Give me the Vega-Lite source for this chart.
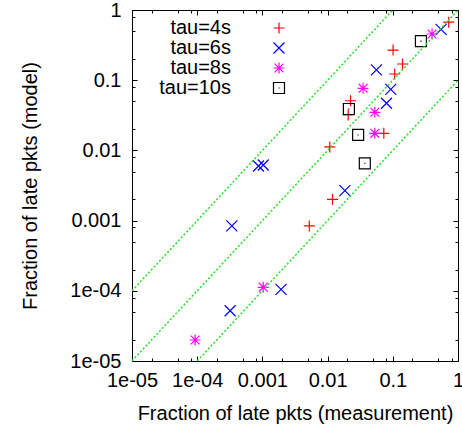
{
  "$schema": "https://vega.github.io/schema/vega-lite/v6.json",
  "width": 326,
  "height": 351,
  "autosize": {"type": "none"},
  "padding": {"left": 132, "top": 10, "right": 4, "bottom": 72},
  "background": "white",
  "config": {
    "view": {"stroke": "#000000", "strokeWidth": 1},
    "font": "Liberation Sans",
    "axis": {
      "labelFont": "Liberation Sans",
      "labelFontSize": 20,
      "labelColor": "#000000",
      "titleFont": "Liberation Sans",
      "titleFontSize": 20,
      "titleFontWeight": "normal",
      "titleColor": "#000000",
      "domain": false,
      "grid": false,
      "tickColor": "#000000",
      "tickWidth": 1,
      "labelOverlap": false,
      "labelFlush": false,
      "labelBound": false
    },
    "legend": {
      "labelFont": "Liberation Sans",
      "labelFontSize": 20,
      "labelColor": "#000000"
    }
  },
  "datasets": {
    "pts": [
      {"m": 0.72, "p": 0.67, "tau": "tau=4s"},
      {"m": 0.101, "p": 0.269, "tau": "tau=4s"},
      {"m": 0.141, "p": 0.17, "tau": "tau=4s"},
      {"m": 0.107, "p": 0.1225, "tau": "tau=4s"},
      {"m": 0.0225, "p": 0.051, "tau": "tau=4s"},
      {"m": 0.0207, "p": 0.032, "tau": "tau=4s"},
      {"m": 0.0728, "p": 0.0175, "tau": "tau=4s"},
      {"m": 0.0108, "p": 0.0112, "tau": "tau=4s"},
      {"m": 0.0119, "p": 0.00201, "tau": "tau=4s"},
      {"m": 0.00524, "p": 0.00084, "tau": "tau=4s"},
      {"m": 0.55, "p": 0.53, "tau": "tau=6s"},
      {"m": 0.056, "p": 0.14, "tau": "tau=6s"},
      {"m": 0.093, "p": 0.074, "tau": "tau=6s"},
      {"m": 0.08, "p": 0.047, "tau": "tau=6s"},
      {"m": 0.00087, "p": 0.006, "tau": "tau=6s"},
      {"m": 0.00103, "p": 0.0062, "tau": "tau=6s"},
      {"m": 0.0184, "p": 0.00267, "tau": "tau=6s"},
      {"m": 0.00034, "p": 0.00084, "tau": "tau=6s"},
      {"m": 0.00193, "p": 0.000105, "tau": "tau=6s"},
      {"m": 0.00032, "p": 0.000052, "tau": "tau=6s"},
      {"m": 0.40, "p": 0.455, "tau": "tau=8s"},
      {"m": 0.035, "p": 0.0767, "tau": "tau=8s"},
      {"m": 0.053, "p": 0.0349, "tau": "tau=8s"},
      {"m": 0.053, "p": 0.0175, "tau": "tau=8s"},
      {"m": 0.00103, "p": 0.000112, "tau": "tau=8s"},
      {"m": 0.000093, "p": 0.0000199, "tau": "tau=8s"},
      {"m": 0.27, "p": 0.36, "tau": "tau=10s"},
      {"m": 0.0212, "p": 0.0389, "tau": "tau=10s"},
      {"m": 0.0294, "p": 0.0166, "tau": "tau=10s"},
      {"m": 0.0372, "p": 0.00655, "tau": "tau=10s"}
    ],
    "lines": [
      {"x": 0.00001, "y": 0.0001, "g": "a"},
      {"x": 0.1, "y": 1, "g": "a"},
      {"x": 0.00001, "y": 0.00001, "g": "b"},
      {"x": 1, "y": 1, "g": "b"},
      {"x": 0.0001, "y": 0.00001, "g": "c"},
      {"x": 1, "y": 0.1, "g": "c"}
    ]
  },
  "layer": [
    {
      "data": {"name": "pts"},
      "mark": {"type": "point", "filled": false, "size": 121, "strokeWidth": 1.2, "opacity": 1},
      "encoding": {
        "x": {
          "field": "m", "type": "quantitative",
          "scale": {"type": "log", "domain": [0.00001, 1], "nice": false},
          "axis": {
            "orient": "bottom",
            "title": "Fraction of late pkts (measurement)",
            "values": [0.00001, 0.00002, 0.00005, 0.00008, 0.0001, 0.0002, 0.0005, 0.0008, 0.001, 0.002, 0.005, 0.008, 0.01, 0.02, 0.05, 0.08, 0.1, 0.2, 0.5, 0.8, 1],
            "tickSize": {"condition": {"test": "abs(log(datum.value)/LN10 - round(log(datum.value)/LN10)) < 0.01", "value": -5}, "value": -3},
            "labelExpr": "abs(log(datum.value)/LN10 - round(log(datum.value)/LN10)) > 0.01 ? '' : datum.value < 0.00005 ? '1e-05' : datum.value < 0.0005 ? '1e-04' : datum.value < 0.005 ? '0.001' : datum.value < 0.05 ? '0.01' : datum.value < 0.5 ? '0.1' : '1'",
            "labelPadding": 14,
            "titlePadding": 11
          }
        },
        "y": {
          "field": "p", "type": "quantitative",
          "scale": {"type": "log", "domain": [0.00001, 1], "nice": false},
          "axis": {
            "orient": "left",
            "title": "Fraction of late pkts (model)",
            "values": [0.00001, 0.00002, 0.00005, 0.00008, 0.0001, 0.0002, 0.0005, 0.0008, 0.001, 0.002, 0.005, 0.008, 0.01, 0.02, 0.05, 0.08, 0.1, 0.2, 0.5, 0.8, 1],
            "tickSize": {"condition": {"test": "abs(log(datum.value)/LN10 - round(log(datum.value)/LN10)) < 0.01", "value": -5}, "value": -3},
            "labelExpr": "abs(log(datum.value)/LN10 - round(log(datum.value)/LN10)) > 0.01 ? '' : datum.value < 0.00005 ? '1e-05' : datum.value < 0.0005 ? '1e-04' : datum.value < 0.005 ? '0.001' : datum.value < 0.05 ? '0.01' : datum.value < 0.5 ? '0.1' : '1'",
            "labelPadding": 16,
            "titlePadding": 29
          }
        },
        "color": {
          "field": "tau", "type": "nominal",
          "scale": {"domain": ["tau=4s", "tau=6s", "tau=8s", "tau=10s"], "range": ["#ff0000", "#0000ff", "#ff00ff", "#000000"]},
          "legend": {
            "orient": "none", "legendX": 137, "legendY": 8, "title": null,
            "padding": 0, "labelAlign": "right", "labelOffset": -58, "rowPadding": -1,
            "symbolSize": 121, "symbolStrokeWidth": 1.2
          }
        },
        "shape": {
          "field": "tau", "type": "nominal",
          "scale": {"domain": ["tau=4s", "tau=6s", "tau=8s", "tau=10s"], "range": [
            "M-1,0L1,0M0,-1L0,1",
            "M-1,-1L1,1M-1,1L1,-1",
            "M-1,0L1,0M0,-1L0,1M-0.8,-0.8L0.8,0.8M-0.8,0.8L0.8,-0.8",
            "M-1,-1L1,-1L1,1L-1,1ZM0,-0.1L0,0.1"
          ]},
          "legend": {
            "orient": "none", "legendX": 137, "legendY": 8, "title": null,
            "padding": 0, "labelAlign": "right", "labelOffset": -58, "rowPadding": -1,
            "symbolSize": 121, "symbolStrokeWidth": 1.2
          }
        }
      }
    },
    {
      "data": {"name": "lines"},
      "mark": {"type": "line", "color": "#22e022", "strokeWidth": 1.5, "strokeDash": [2, 2]},
      "encoding": {
        "x": {
          "field": "x", "type": "quantitative",
          "scale": {"type": "log", "domain": [0.00001, 1], "nice": false},
          "axis": {
            "orient": "top", "title": null, "labels": false,
            "values": [0.00001, 0.00002, 0.00005, 0.00008, 0.0001, 0.0002, 0.0005, 0.0008, 0.001, 0.002, 0.005, 0.008, 0.01, 0.02, 0.05, 0.08, 0.1, 0.2, 0.5, 0.8, 1],
            "tickSize": {"condition": {"test": "abs(log(datum.value)/LN10 - round(log(datum.value)/LN10)) < 0.01", "value": -5}, "value": -3}
          }
        },
        "y": {
          "field": "y", "type": "quantitative",
          "scale": {"type": "log", "domain": [0.00001, 1], "nice": false},
          "axis": {
            "orient": "right", "title": null, "labels": false,
            "values": [0.00001, 0.00002, 0.00005, 0.00008, 0.0001, 0.0002, 0.0005, 0.0008, 0.001, 0.002, 0.005, 0.008, 0.01, 0.02, 0.05, 0.08, 0.1, 0.2, 0.5, 0.8, 1],
            "tickSize": {"condition": {"test": "abs(log(datum.value)/LN10 - round(log(datum.value)/LN10)) < 0.01", "value": -5}, "value": -3}
          }
        },
        "detail": {"field": "g", "type": "nominal"}
      }
    }
  ],
  "resolve": {"axis": {"x": "independent", "y": "independent"}}
}
